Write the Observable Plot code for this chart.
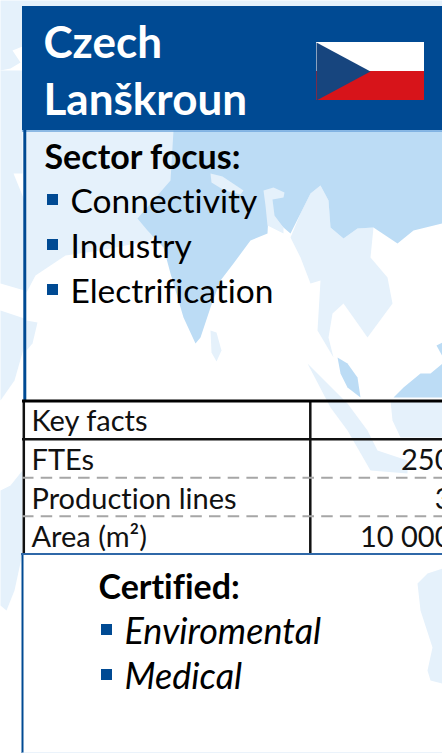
<!DOCTYPE html>
<html><head><meta charset="utf-8">
<style>html,body{margin:0;padding:0;background:#fff;overflow:hidden}svg{display:block;overflow:hidden}text{font-variant-ligatures:none}</style>
<script src="https://cdn.jsdelivr.net/npm/d3@7"></script>
<script src="https://cdn.jsdelivr.net/npm/@observablehq/plot@0.6"></script>
</head><body><script>
const titleLines = ["Czech", "Lanškroun"];
const sectorHeading = ["Sector focus:"];
const sectors = ["Connectivity", "Industry", "Electrification"];
const factLabels = ["Key facts", "FTEs", "Production lines", "Area (m²)"];
const factValues = ["", "250", "3", "10 000"];
const certifiedHeading = ["Certified:"];
const certifications = ["Enviromental", "Medical"];

// faint world-map backdrop, traced by eye
const lightLand = [
 // left strip
 [[0,0],[442,0],[442,130],[22,130],[22,46],[12,50],[20,62],[10,68],[0,70]],
 [[0,70],[22,70],[22,173],[13,173],[24,200],[24,290],[0,283]],
 [[0,310],[24,318],[24,345],[14,380],[0,400]],
 [[0,490],[10,485],[22,470],[22,553],[14,590],[6,610],[0,605]],
 // Arabia and Africa in the panel
 [[26,130],[175,130],[175,215],[150,240],[100,250],[65,255],[35,275],[26,292]],
 [[26,320],[37,322],[32,343],[26,350]],
 // Indochina
 [[320,185],[328,200],[330,227],[343,238],[357,228],[373,227],[370,257],[387,277],[392,303],[367,337],[360,327],[343,303],[332,313],[328,337],[333,357],[317,330],[320,280],[310,283],[300,257],[290,237],[300,213],[310,193]],
 // Sumatra and Java
 [[307,363],[327,383],[347,403],[367,430],[377,450],[407,460],[407,473],[370,470],[347,430],[330,407]],
 // Borneo lower part
 [[390,400],[442,400],[442,437],[400,437],[392,420]],
 // Australia
 [[417,583],[427,573],[442,568],[442,683],[430,680],[427,670],[432,647],[420,610]],
 // Sri Lanka
 [[210,330],[216,332],[221,350],[216,361],[211,352]]
];
const midLand = [
 [[173,130],[442,130],[442,223],[413,230],[397,243],[373,227],[357,228],[343,238],[330,227],[328,200],[320,185],[310,193],[300,213],[290,233],[283,227],[268,213],[267,233],[250,240],[233,263],[220,280],[210,307],[200,337],[195,343],[183,317],[170,273],[163,247],[147,230],[137,218],[150,203],[170,180]],
 // Malay peninsula
 [[337,357],[347,363],[357,377],[360,397],[347,387],[340,373]],
 // Borneo upper part
 [[393,397],[403,387],[420,373],[430,373],[442,363],[442,397]],
 [[436,345],[442,342],[442,356]]
];
const lightOver = [
 [[210,173],[222,176],[243,190],[240,194],[224,190],[211,182]],
 [[263,190],[273,187],[284,192],[283,197],[272,199],[274,215],[283,227],[283,233],[267,225],[265,205]]
];
const pieces = list => list.flatMap((pts,id)=>pts.map(([x,y])=>({id,x,y})));

const BLUE = "#004a93", FONT = "Lato, Carlito, sans-serif";
const LIGHT = "#e5f1fb", MID = "#bcdcf5";
const row = (start, step) => (d, i) => start + i * step;

const chart = Plot.plot({
  width: 442, height: 753, margin: 0,
  style: {background: "#fff", fontFamily: FONT},
  x: {domain: [0, 442], range: [0, 442], axis: null},
  y: {domain: [0, 753], range: [0, 753], axis: null},
  marks: [
    Plot.line(pieces(lightLand), {x:"x", y:"y", z:"id", fill:LIGHT, stroke:null}),
    Plot.line(pieces(midLand), {x:"x", y:"y", z:"id", fill:MID, stroke:null}),
    Plot.line(pieces(lightOver), {x:"x", y:"y", z:"id", fill:LIGHT, stroke:null}),
    // header band and flag
    Plot.rect([0], {x1:22, x2:442, y1:6, y2:130, fill:BLUE}),
    Plot.rect([0], {x1:316, x2:424, y1:42, y2:71, fill:"#fff"}),
    Plot.rect([0], {x1:316, x2:424, y1:71, y2:100, fill:"#d7141a"}),
    Plot.line([[316,42],[370,71],[316,100]], {x:d=>d[0], y:d=>d[1], fill:"#17457e", stroke:null}),
    Plot.text(titleLines, {x:43, y:row(43.5,57), text:d=>d, fill:"#fff", fontSize:44, fontWeight:700, textAnchor:"start"}),
    // panel rules
    Plot.ruleY([130.5], {x1:22, x2:442, stroke:"#6ea6dc", strokeWidth:1.5}),
    Plot.ruleX([24.3], {y1:130, y2:400, stroke:BLUE, strokeWidth:3}),
    Plot.ruleX([22], {y1:553, y2:753, stroke:BLUE, strokeWidth:2}),
    Plot.ruleY([752.5], {x1:22, x2:442, stroke:"#d6e7f7", strokeWidth:1}),
    // sector list
    Plot.text(sectorHeading, {x:44, y:157.5, text:d=>d, fill:"#000", fontSize:34, fontWeight:700, textAnchor:"start"}),
    Plot.rect(sectors, {x1:47, x2:58, y1:row(194,45), y2:row(205,45), fill:BLUE}),
    Plot.text(sectors, {x:70, y:row(201.8,45), text:d=>d, fill:"#000", fontSize:33.5, textAnchor:"start"}),
    // key facts table
    Plot.ruleX([23.3, 309.8], {y1:400, y2:553, stroke:"#111", strokeWidth:2.5}),
    Plot.ruleY([400.5], {x1:22, x2:442, stroke:"#000", strokeWidth:3}),
    Plot.ruleY([438.7], {x1:22, x2:442, stroke:"#111", strokeWidth:2.5}),
    Plot.ruleY([477.3, 515.7], {x1:22, x2:442, stroke:"#a6a6a6", strokeWidth:2, strokeDasharray:"11.5 7.2"}),
    Plot.ruleY([553.5], {x1:21, x2:442, stroke:"#2f68a8", strokeWidth:2}),
    Plot.text(factLabels, {x:31, y:row(421.4,38.7), text:d=>d, fill:"#111", fontSize:29, textAnchor:"start"}),
    Plot.text(factValues, {x:451, y:row(421.4,38.7), text:d=>d, fill:"#111", fontSize:29, textAnchor:"end"}),
    // certifications
    Plot.text(certifiedHeading, {x:98, y:587.5, text:d=>d, fill:"#000", fontSize:34, fontWeight:700, textAnchor:"start"}),
    Plot.rect(certifications, {x1:101, x2:112, y1:row(624,45), y2:row(635,45), fill:BLUE}),
    Plot.text(certifications, {x:124, y:row(632.3,45), text:d=>d, fill:"#000", fontSize:36, fontStyle:"italic", textAnchor:"start"})
  ]
});
document.body.appendChild(chart);
</script></body></html>
